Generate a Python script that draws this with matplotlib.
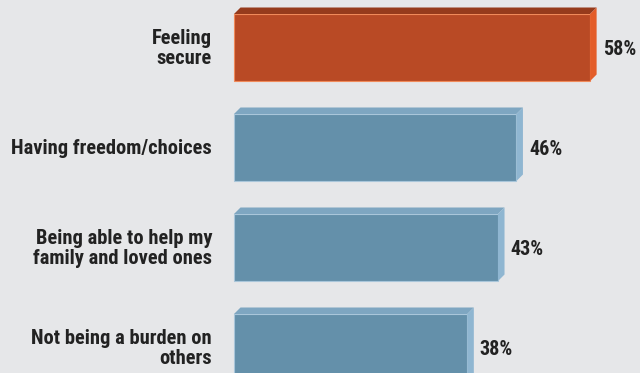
import matplotlib.pyplot as plt
from matplotlib.patches import Polygon

labels = ["Feeling\nsecure", "Having freedom/choices",
          "Being able to help my\nfamily and loved ones",
          "Not being a burden on\nothers"]
values = [58, 46, 43, 38]
highlight = [True, False, False, False]

# front / top / side shades for the 3d look
orange = ("#b94a25", "#963b1c", "#e35d29")
blue = ("#6490aa", "#7ea6c1", "#8fb6d1")
bg = "#e6e7e9"

fig = plt.figure(figsize=(6.4, 3.73), dpi=100, facecolor=bg)
ax = fig.add_axes([0, 0, 1, 1], facecolor=bg)

px_x = 6.14  # pixels per percent
ax.set_xlim(-234 / px_x, (640 - 234) / px_x)
ax.set_ylim(3.255, -0.475)
ax.axis("off")

h = 0.67
dx = 6.5 / px_x
dy = 0.065

font = ["Roboto Condensed", "DejaVu Sans"]

for i, (lab, v, hl) in enumerate(zip(labels, values, highlight)):
    front, top, side = orange if hl else blue
    edge = "#f08a5a" if hl else "#a9c6da"
    ax.barh(i, v, height=h, color=front, edgecolor=edge, linewidth=0.8, zorder=2)
    y0 = i - h / 2
    y1 = i + h / 2
    ax.add_patch(Polygon([(0, y0), (dx, y0 - dy), (v + dx, y0 - dy), (v, y0)],
                         closed=True, facecolor=top, edgecolor="none", zorder=3))
    ax.add_patch(Polygon([(v, y0), (v + dx, y0 - dy), (v + dx, y1 - dy), (v, y1)],
                         closed=True, facecolor=side, edgecolor="none", zorder=3))
    ax.text(-22 / px_x, i + 0.01, lab, ha="right", va="center", fontsize=14.8,
            fontweight="bold", color="#222222", family=font, linespacing=1.12)
    ax.text(v + dx + 6 / px_x, i + 0.02, f"{v}%", ha="left", va="center",
            fontsize=14.5, fontweight="bold", color="#222222", family=font)

fig.savefig("out.png", dpi=100, facecolor=bg)
